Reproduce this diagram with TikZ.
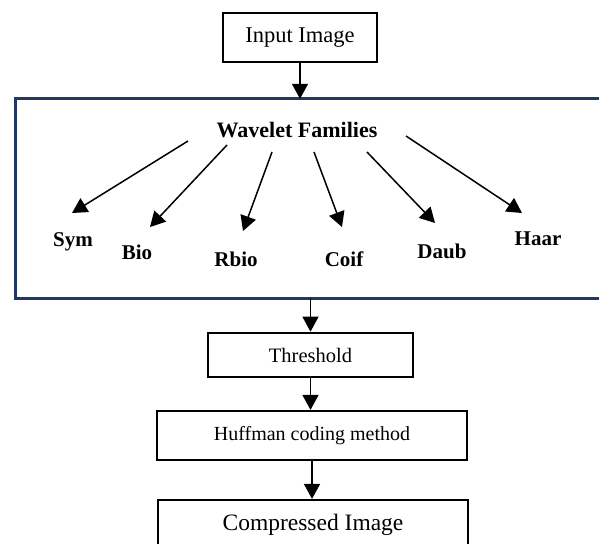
\documentclass[tikz,border=0pt]{standalone}
\usepackage{fontspec}
\setmainfont{Liberation Serif}
\usetikzlibrary{arrows.meta}
\definecolor{navy}{RGB}{31,56,100}
\tikzset{
  box/.style={draw=black, line width=2.2pt, rectangle, inner sep=0pt, align=center},
  thick box/.style={box, line width=2.7pt},
  arr/.style={draw=black, line width=1.5pt, -{Triangle[length=15pt,width=16pt]}},
  famline/.style={draw=navy, line width=3pt},
  lbl/.style={anchor=base, inner sep=0pt, font=\fontsize{21}{24}\selectfont\bfseries},
}
\begin{document}
\begin{tikzpicture}[x=1pt,y=-1pt]
\useasboundingbox (0,0) rectangle (599,543);
\node[thick box, minimum width=154pt, minimum height=49pt, font=\fontsize{22.5}{26}\selectfont] (inp) at (300,37.5) {Input Image};
\node[draw=none, minimum width=585pt, minimum height=199pt, inner sep=0pt] (fam) at (308.5,198.5) {};
\draw[famline] (fam.north east) -- (fam.north west) -- (fam.south west) -- (fam.south east);
\node[anchor=base, inner sep=0pt, font=\fontsize{22}{26}\selectfont\bfseries] (wf) at (297,137) {Wavelet Families};
\node[lbl] (sym) at (73,246) {Sym};
\node[lbl] (bio) at (137,259) {Bio};
\node[lbl] (rbio) at (236,266) {Rbio};
\node[lbl] (coif) at (344,266) {Coif};
\node[lbl] (daub) at (442,258) {Daub};
\node[lbl] (haar) at (538,245) {Haar};
\coordinate (s1) at (188,141); \coordinate (t1) at (72,213);
\coordinate (s2) at (227,145); \coordinate (t2) at (150,227);
\coordinate (s3) at (272,152); \coordinate (t3) at (243,231);
\coordinate (s4) at (314,152); \coordinate (t4) at (342,227);
\coordinate (s5) at (367,152); \coordinate (t5) at (435,223);
\coordinate (s6) at (406,136); \coordinate (t6) at (522,213);
\foreach \i in {1,...,6} {\draw[arr] (s\i) -- (t\i);}
\node[thick box, minimum width=205pt, minimum height=44pt, font=\fontsize{20.5}{24}\selectfont] (thr) at (310.5,355) {Threshold};
\node[box, minimum width=310pt, minimum height=49pt, font=\fontsize{20}{24}\selectfont] (huf) at (312,435.5) {Huffman coding method};
\node[box, minimum width=310pt, minimum height=50pt, font=\fontsize{23.5}{28}\selectfont] (cmp) at (313,525) {Compressed Image};
\draw[arr] (inp.south) -- (inp.south |- fam.north);
\draw[arr] (fam.south -| thr.north) -- (thr.north);
\draw[arr] (thr.south) -- (thr.south |- huf.north);
\draw[arr] (huf.south) -- (huf.south |- cmp.north);
\end{tikzpicture}
\end{document}
